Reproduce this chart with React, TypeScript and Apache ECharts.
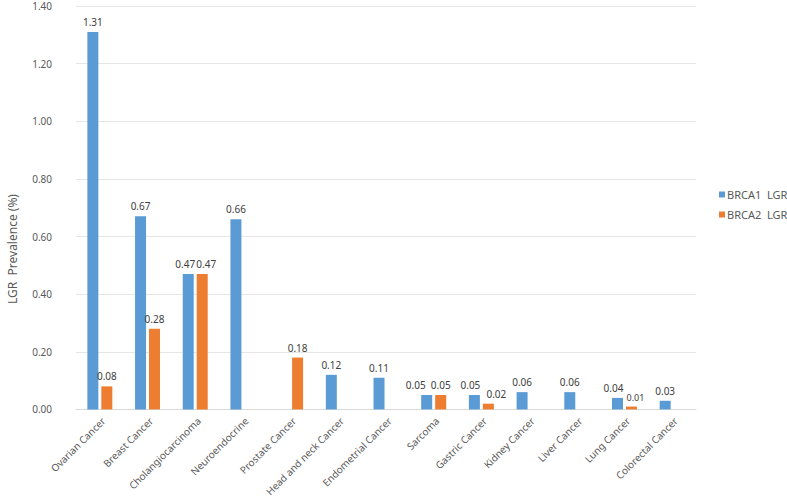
import React, { useEffect, useRef } from "react";
import * as echarts from "echarts";

const categories = [
  "Ovarian Cancer",
  "Breast Cancer",
  "Cholangiocarcinoma",
  "Neuroendocrine",
  "Prostate Cancer",
  "Head and neck Cancer",
  "Endometrial Cancer",
  "Sarcoma",
  "Gastric Cancer",
  "Kidney Cancer",
  "Liver Cancer",
  "Lung Cancer",
  "Colorectal Cancer",
];
const brca1 = [1.31, 0.67, 0.47, 0.66, null, 0.12, 0.11, 0.05, 0.05, 0.06, 0.06, 0.04, 0.03];
const brca2 = [0.08, 0.28, 0.47, null, 0.18, null, null, 0.05, 0.02, null, null, 0.01, null];
const seriesNames = ["BRCA1  LGR", "BRCA2  LGR"];
const yTitle = "LGR  Prevalence (%)";
const colors = ["#5B9BD5", "#ED7D31"];

// horizontal nudges of individual value labels (as in the reference), by category index
const labelNudge1: Record<number, number> = { 2: -3, 7: -11, 8: -4, 11: -4 };
const labelNudge2: Record<number, number> = { 2: 4, 8: 8, 11: 4 };

const FONT = "'Noto Sans', 'DejaVu Sans', sans-serif";

function buildData(values: (number | null)[], nudge: Record<number, number>, small: Record<number, boolean> = {}) {
  return values.map((v, i) => {
    if (v == null) return null;
    const item: any = { value: v };
    if (nudge[i] !== undefined || small[i]) {
      item.label = { offset: [nudge[i] || 0, 0] };
      if (small[i]) item.label.fontSize = 9;
    }
    return item;
  });
}

export default function App() {
  const ref = useRef<HTMLDivElement>(null);
  useEffect(() => {
    document.body.style.margin = "0";
    const chart = echarts.init(ref.current!, null, { renderer: "svg" });
    const label = {
      show: true,
      position: "top" as const,
      distance: 5,
      fontSize: 10,
      color: "#404040",
      fontFamily: FONT,
      formatter: (p: any) => (p.value == null ? "" : Number(p.value).toFixed(2)),
    };
    chart.setOption({
      animation: false,
      backgroundColor: "#ffffff",
      grid: { left: 76, right: 91, top: 6, bottom: 85, containLabel: false },
      legend: {
        orient: "vertical",
        left: 714,
        top: 184,
        itemWidth: 6,
        itemHeight: 6,
        itemGap: 9,
        icon: "rect",
        textStyle: { fontSize: 11, color: "#595959", fontFamily: FONT, padding: [0, 0, 0, -3] },
        data: seriesNames,
      },
      graphic: [
        {
          type: "text",
          x: 12,
          y: 249,
          rotation: Math.PI / 2,
          style: {
            text: yTitle,
            fontSize: 12,
            fill: "#595959",
            fontFamily: FONT,
            textAlign: "center",
            textVerticalAlign: "middle",
          },
        },
      ],
      xAxis: {
        type: "category",
        data: categories,
        axisLine: { show: true, lineStyle: { color: "#D9D9D9" } },
        axisTick: { show: false },
        axisLabel: {
          rotate: 45,
          interval: 0,
          fontSize: 10,
          color: "#595959",
          fontFamily: FONT,
          margin: 6,
          verticalAlign: "top",
        },
      },
      yAxis: {
        type: "value",
        min: 0,
        max: 1.4,
        interval: 0.2,
        axisLine: { show: false },
        axisTick: { show: false },
        axisLabel: {
          fontSize: 10,
          color: "#595959",
          fontFamily: FONT,
          margin: 24,
          formatter: (v: number) => v.toFixed(2),
        },
        splitLine: { lineStyle: { color: "#E6E6E6" } },
      },
      series: [
        {
          name: seriesNames[0],
          type: "bar",
          data: buildData(brca1, labelNudge1),
          itemStyle: { color: colors[0] },
          barWidth: 11,
          barGap: "27%",
          label,
        },
        {
          name: seriesNames[1],
          type: "bar",
          data: buildData(brca2, labelNudge2, { 11: true }),
          itemStyle: { color: colors[1] },
          barWidth: 11,
          barGap: "27%",
          label,
        },
      ],
    });
    return () => chart.dispose();
  }, []);
  return <div ref={ref} style={{ width: 787, height: 499 }} />;
}
